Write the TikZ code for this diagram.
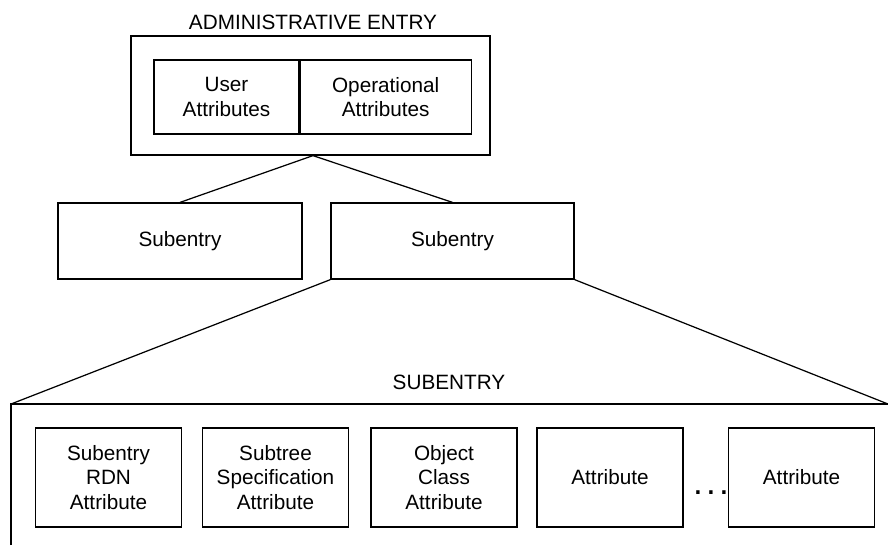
\documentclass[tikz,border=0pt]{standalone}
\usepackage{fontspec}
\setmainfont{Liberation Sans}
\usetikzlibrary{positioning}

\tikzset{
  box/.style={draw, rectangle, line width=0.7pt, inner sep=0pt, align=center},
  attrbox/.style={box, minimum width=2.92cm, minimum height=1.98cm},
  subbox/.style={box, minimum height=1.52cm},
  lbl/.style={inner sep=0pt, anchor=base}
}

\begin{document}
\begin{tikzpicture}[x=0.02cm, y=-0.02cm, line width=0.7pt,
  font=\fontsize{11.8}{13.8}\selectfont]
\useasboundingbox (0,0) rectangle (888,545);

% administrative entry
\node (title) at (313,29.5) [lbl] {ADMINISTRATIVE ENTRY};
\node (AE) at (310.5,95.5) [box, minimum width=7.18cm, minimum height=2.38cm] {};
\node (UA) at (226.5,97) [box, minimum width=2.9cm, minimum height=1.48cm] {User\\Attributes};
\node (OA) [box, minimum width=3.42cm, minimum height=1.48cm, right=0pt of UA] {Operational\\Attributes};
\coordinate (apex) at ([xshift=0.05cm]AE.south);

% subentries
\node (S1) at (180,241) [subbox, minimum width=4.88cm] {Subentry};
\node (S2) at (452.5,241) [subbox, minimum width=4.86cm] {Subentry};

\draw (apex) -- (S1.north);
\draw (apex) -- (S2.north);

% subentry contents
\node (setitle) at (449,389) [lbl] {SUBENTRY};
\coordinate (SEl) at (11,404);
\coordinate (SEr) at (888,404);
\coordinate (SEb) at (11,545);
\draw (SEb) -- (SEl) -- (SEr);

\draw (S2.south west) -- (SEl);
\draw (S2.south east) -- (SEr);

\node (B1) at (108.5,477.5) [attrbox] {Subentry\\RDN\\Attribute};
\node (B2) at (275.5,477.5) [attrbox] {Subtree\\Specification\\Attribute};
\node (B3) at (444,477.5) [attrbox] {Object\\Class\\Attribute};
\node (B4) at (610,477.5) [attrbox] {Attribute};
\node (B5) at (801.5,477.5) [attrbox] {Attribute};
\node (dots) at (711,493) [inner sep=0pt, font=\fontsize{20}{20}\selectfont]
  {.\hspace{1.8pt}.\hspace{1.8pt}.};
\end{tikzpicture}
\end{document}
